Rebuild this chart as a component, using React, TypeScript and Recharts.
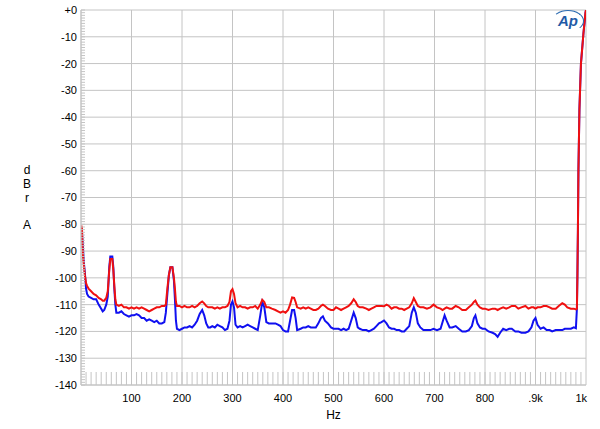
import React from "react";
import { LineChart, Line, XAxis, YAxis, CartesianGrid } from "recharts";

// frequency (Hz) and level (dBr A) of the two channels
const FREQ = [
  1, 2, 3, 4, 6, 8, 10, 12, 15, 20, 25, 30, 35, 40, 43, 46, 50, 53, 56, 58, 62, 64, 66, 68, 70,
  75, 80, 85, 90, 95, 100, 105, 110, 115, 120, 125, 130, 135, 140, 145, 150, 155, 160, 165, 168,
  171, 174, 177, 181, 184, 186, 188, 190, 195, 200, 205, 210, 215, 220, 225, 230, 235, 240, 244,
  248, 252, 256, 260, 265, 270, 275, 280, 285, 290, 294, 297, 300, 303, 306, 310, 315, 320, 325,
  330, 335, 340, 345, 350, 355, 359, 363, 367, 372, 378, 385, 390, 395, 400, 405, 410, 414, 418,
  422, 425, 428, 435, 440, 445, 450, 455, 460, 465, 470, 475, 479, 483, 489, 495, 500, 505, 510,
  515, 520, 525, 530, 535, 540, 544, 548, 552, 558, 565, 570, 575, 580, 585, 590, 595, 600, 605,
  610, 615, 620, 625, 630, 635, 640, 645, 650, 655, 659, 663, 667, 672, 678, 685, 692, 698, 705,
  712, 716, 720, 724, 730, 735, 742, 748, 755, 762, 768, 774, 778, 781, 785, 790, 795, 800, 807,
  815, 820, 825, 830, 836, 842, 848, 853, 860, 866, 872, 880, 886, 892, 896, 900, 904, 910, 916,
  922, 928, 933, 940, 946, 953, 958, 963, 970, 976, 980, 982, 983, 984, 985, 987, 990, 995, 999,
  1000,
];

const RED = [
  -80.5, -82, -88, -92, -96, -99.5, -102, -103, -104, -105, -106, -106.5, -107.5, -108, -108.5,
  -108.5, -107.5, -105, -97, -93, -93, -97, -103, -108, -110, -110.5, -110, -111, -111, -111.5,
  -111, -111.5, -111, -111.5, -111, -111.5, -112, -112.5, -112, -111.5, -111, -111, -110.5,
  -110.5, -110, -104, -99, -96, -96, -100, -104, -109, -110.5, -110.5, -111, -110.5, -111, -111,
  -110.5, -111, -110.5, -109.5, -108.8, -109.5, -110.5, -111, -111, -111, -111.5, -111, -111.5,
  -111, -111, -110.5, -109, -105, -104.2, -106, -109.5, -111, -110.5, -111, -111, -111.5, -111,
  -111, -110.5, -111.5, -110, -108.2, -109, -111, -111, -111.5, -112, -112.5, -113, -112.5, -113,
  -112, -110, -107.3, -107.5, -109, -111, -111.5, -111, -111.5, -111, -111.5, -112, -112, -111.5,
  -110.5, -110, -110.5, -111.5, -112, -112, -111, -111.5, -112, -111.5, -111, -110.5, -109.5,
  -108, -109, -110.5, -111, -111, -111.5, -112, -111.5, -111, -110.5, -110.5, -110.5, -110.6,
  -110, -110.5, -111.5, -111, -111, -111.5, -111.5, -112, -111.5, -111, -109.5, -107.6, -109,
  -110.5, -111, -111, -111.5, -111, -110, -111, -111.5, -112, -111.5, -111, -111.5, -111.5,
  -110.5, -111, -112, -112, -111, -110, -109, -108.5, -110, -111, -111.5, -111.5, -112, -111.5,
  -111.5, -112, -111.5, -111, -111.5, -111, -110.5, -110.5, -111.5, -111, -110.5, -111.5, -111,
  -111, -111.5, -111, -111, -110.5, -110.5, -111, -111.5, -111.5, -110.5, -109.5, -110, -111,
  -111.5, -111.5, -111.8, -111.5, -99, -82, -60, -37, -20, -8.6, -1, 0,
];

const BLUE = [
  -81.5, -83, -86, -89, -95, -99, -104, -106, -107, -107.5, -108, -108, -110, -111.5, -112.5,
  -112, -110, -107, -96, -92, -92, -96, -104, -110, -113, -113, -112.5, -113.5, -114, -114.5,
  -114, -114, -113.5, -114, -115, -115, -116, -115.5, -116, -116.5, -116, -117, -117, -116.5,
  -113, -106, -99, -96, -96, -101, -108, -116, -119, -119.5, -119, -118.5, -118.5, -118, -118.5,
  -117.5, -116, -113.5, -112, -114, -117, -118.5, -118.5, -118, -118.5, -117.5, -118, -118.5,
  -119.5, -119, -116, -110, -108.8, -111, -117.5, -118.5, -118, -118.5, -118, -117.5, -118,
  -118.5, -119, -119.5, -114, -109, -111, -116.5, -117, -117, -117, -117.5, -118, -119.5, -120,
  -120, -116, -112, -112, -115, -119.5, -119, -118.5, -118.5, -118, -118.5, -118.5, -118.5,
  -117, -115, -114.4, -116, -117, -118.5, -119, -119, -119, -119.5, -119, -119.5, -119, -116,
  -113, -115, -118.5, -119, -119.5, -119.5, -120, -119.5, -119, -118, -117, -116.5, -115.9,
  -117, -118.5, -119, -119, -119.5, -119.5, -120, -120, -119, -118, -113, -111, -113, -117,
  -118.5, -119.5, -119.5, -119.5, -119, -119.5, -119, -116.5, -114, -116, -118.5, -118.5, -118,
  -119, -120, -120, -119.5, -118, -115, -114, -117, -118.5, -119, -119, -120, -120.5, -121,
  -122, -120.5, -119, -119.5, -119, -119, -120, -120, -120.5, -120.5, -120, -118.5, -116, -115,
  -117.5, -119, -118.5, -119.5, -119.5, -120, -119.5, -119.5, -119.5, -119, -119, -119, -118.5,
  -118.8, -111.5, -99, -82, -60, -37, -20, -8.6, -1, 0,
];

const X_TICKS = [100, 200, 300, 400, 500, 600, 700, 800, 900, 1000];
const X_LABELS = ["100", "200", "300", "400", "500", "600", "700", "800", ".9k", "1k"];
const Y_TICKS = [0, -10, -20, -30, -40, -50, -60, -70, -80, -90, -100, -110, -120, -130, -140];

// minor tick marks along the frame
const MINOR_X = Array.from({ length: 99 }, (_, i) => (i + 1) * 10);
const MINOR_Y = Array.from({ length: 141 }, (_, i) => -i);

const data = FREQ.map((f, i) => ({ f, red: RED[i], blue: BLUE[i] }));

const FONT = "'Liberation Sans', Arial, sans-serif";
const GRID = "#c4c4c4";

const XTick = (props: any) => {
  const { x, y, payload } = props;
  const i = X_TICKS.indexOf(payload.value);
  const last = payload.value === 1000;
  return (
    <text
      x={last ? x + 1 : x}
      y={y + 17}
      textAnchor={last ? "end" : "middle"}
      fontSize={11}
      fontFamily={FONT}
      fill="#000"
    >
      {X_LABELS[i]}
    </text>
  );
};

const YTick = (props: any) => {
  const { x, y, payload } = props;
  return (
    <text x={x} y={y} dy="0.36em" textAnchor="end" fontSize={11} fontFamily={FONT} fill="#000">
      {payload.value === 0 ? "+0" : payload.value}
    </text>
  );
};

const NoTick = () => <g />;

const UnitLabel = () => (
  <text fontSize={12} fontFamily={FONT} fill="#000" textAnchor="middle">
    <tspan x={27} y={174}>d</tspan>
    <tspan x={27} y={188}>B</tspan>
    <tspan x={27} y={202}>r</tspan>
    <tspan x={27} y={229}>A</tspan>
  </text>
);

export default function App() {
  return (
    <div style={{ position: "absolute", left: 0, top: 0, width: 600, height: 429, background: "#fff" }}>
      <LineChart width={600} height={429} data={data} margin={{ top: 10, right: 14, bottom: 0, left: 0 }}>
        <CartesianGrid stroke={GRID} strokeWidth={1} />
        <XAxis
          xAxisId="minor"
          dataKey="f"
          type="number"
          domain={[0, 1000]}
          ticks={MINOR_X}
          interval={0}
          orientation="bottom"
          mirror
          height={1}
          tick={<NoTick />}
          tickSize={13}
          tickLine={{ stroke: GRID }}
          axisLine={false}
          allowDataOverflow
        />
        <XAxis
          dataKey="f"
          type="number"
          domain={[0, 1000]}
          ticks={X_TICKS}
          interval={0}
          height={44}
          tick={<XTick />}
          tickLine={false}
          tickSize={0}
          tickMargin={0}
          axisLine={{ stroke: GRID }}
          label={{ value: "Hz", position: "insideBottom", offset: 10, fontSize: 12, fontFamily: FONT, fill: "#000" }}
          allowDataOverflow
        />
        <YAxis
          yAxisId="minor"
          type="number"
          domain={[-140, 0]}
          ticks={MINOR_Y}
          interval={0}
          orientation="left"
          mirror
          width={1}
          tick={<NoTick />}
          tickSize={4}
          tickLine={{ stroke: GRID }}
          axisLine={false}
          allowDataOverflow
        />
        <YAxis
          type="number"
          domain={[-140, 0]}
          ticks={Y_TICKS}
          interval={0}
          width={81}
          tick={<YTick />}
          tickLine={false}
          tickSize={0}
          tickMargin={4}
          axisLine={{ stroke: GRID }}
          label={<UnitLabel />}
          allowDataOverflow
        />
        {/* invisible series that ties the minor-tick axes to the data */}
        <Line
          xAxisId="minor"
          yAxisId="minor"
          dataKey="red"
          stroke="none"
          dot={false}
          activeDot={false}
          isAnimationActive={false}
        />
        <Line
          dataKey="blue"
          stroke="#1010f0"
          strokeWidth={2}
          dot={false}
          type="linear"
          isAnimationActive={false}
        />
        <Line
          dataKey="red"
          stroke="#f01010"
          strokeWidth={2}
          dot={false}
          type="linear"
          isAnimationActive={false}
        />
      </LineChart>
      <div
        style={{
          position: "absolute",
          left: 552,
          top: 10,
          width: 30,
          height: 20,
          border: "1.5px solid #2a6ab0",
          borderRadius: "50%",
          borderLeftColor: "transparent",
          borderBottomColor: "transparent",
          color: "#1f5aa6",
          fontFamily: FONT,
          fontStyle: "italic",
          fontWeight: "bold",
          fontSize: 15,
          lineHeight: "20px",
          textAlign: "center",
        }}
      >
        Ap
      </div>
    </div>
  );
}
